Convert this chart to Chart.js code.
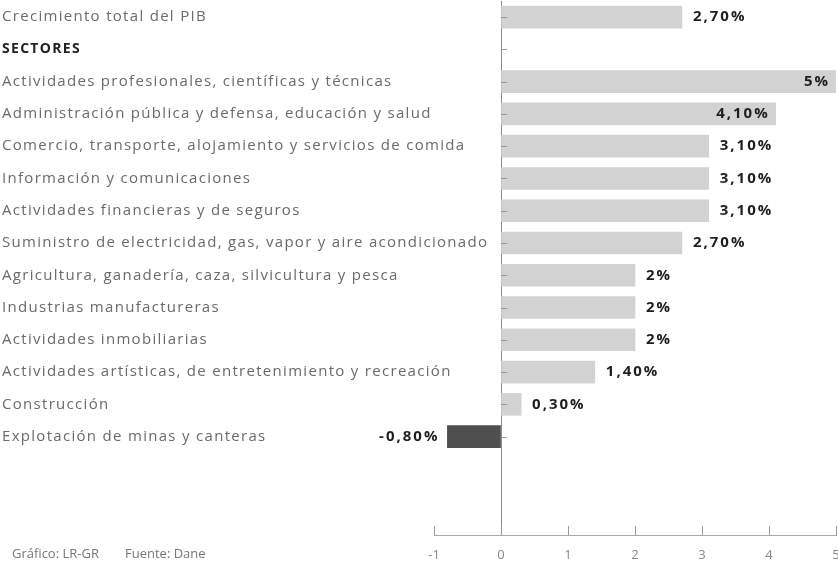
<!DOCTYPE html>
<html>
<head>
<meta charset="utf-8">
<script src="https://cdn.jsdelivr.net/npm/chart.js@4.4.0/dist/chart.umd.min.js"></script>
<style>
  html, body { margin: 0; padding: 0; background: #fff; }
  #wrap { width: 838px; height: 563px; }
</style>
</head>
<body>
<div id="wrap"><canvas id="pibChart"></canvas></div>
<script>
// Categories (top to bottom) and growth values in %
const categories = [
    'Crecimiento total del PIB',
    'SECTORES',
    'Actividades profesionales, científicas y técnicas',
    'Administración pública y defensa, educación y salud',
    'Comercio, transporte, alojamiento y servicios de comida',
    'Información y comunicaciones',
    'Actividades financieras y de seguros',
    'Suministro de electricidad, gas, vapor y aire acondicionado',
    'Agricultura, ganadería, caza, silvicultura y pesca',
    'Industrias manufactureras',
    'Actividades inmobiliarias',
    'Actividades artísticas, de entretenimiento y recreación',
    'Construcción',
    'Explotación de minas y canteras'
];
const growth = [2.7, null, 5, 4.1, 3.1, 3.1, 3.1, 2.7, 2, 2, 2, 1.4, 0.3, -0.8];
const xTicks = [-1, 0, 1, 2, 3, 4, 5];
const footerParts = ['Gráfico: LR-GR', 'Fuente: Dane'];

// y range: half a row above the first, empty space below the last
const yMin = -0.5;
const yMax = 16.05;

// Spanish style percent: 2,70% / 5%
function fmt(v) {
    if (Number.isInteger(v)) return v + '%';
    return v.toFixed(2).replace('.', ',') + '%';
}

// Category names, drawn left aligned and allowed to run past the axis box
const rowLabels = {
    id: 'rowLabels',
    afterDraw(chart) {
        const ctx = chart.ctx;
        const ys = chart.scales.y;
        ctx.save();
        ctx.letterSpacing = '1.3px';
        ctx.textAlign = 'left';
        ctx.textBaseline = 'middle';
        categories.forEach((c, i) => {
            if (i === 1) {
                ctx.font = 'bold 14px "Open Sans"';
                ctx.fillStyle = '#222';
            } else {
                ctx.font = '15px "Open Sans"';
                ctx.fillStyle = '#6a6a6a';
            }
            ctx.fillText(c, 2, ys.getPixelForValue(i));
        });
        ctx.restore();
    }
};

// Value labels at the end of each bar
const valueLabels = {
    id: 'valueLabels',
    afterDatasetsDraw(chart) {
        const ctx = chart.ctx;
        const meta = chart.getDatasetMeta(0);
        const area = chart.chartArea;
        ctx.save();
        ctx.letterSpacing = '2px';
        ctx.font = 'bold 15px "Open Sans"';
        ctx.fillStyle = '#1e1e1e';
        ctx.textBaseline = 'middle';
        meta.data.forEach((bar, i) => {
            const v = growth[i];
            if (v === null) return;
            const txt = fmt(v);
            const w = ctx.measureText(txt).width;
            if (v < 0) {
                ctx.textAlign = 'right';
                ctx.fillText(txt, bar.x - 8, bar.y);
            } else if (bar.x + 12 + w > area.right) {
                ctx.textAlign = 'right';
                ctx.fillText(txt, bar.x - 6, bar.y);
            } else {
                ctx.textAlign = 'left';
                ctx.fillText(txt, bar.x + 11, bar.y);
            }
        });
        ctx.restore();
    }
};

// Small inward tick marks on the x axis and on the zero line, plus footer
const decorations = {
    id: 'decorations',
    afterDraw(chart) {
        const ctx = chart.ctx;
        const xs = chart.scales.x;
        const ys = chart.scales.y;
        const bottom = chart.chartArea.bottom;
        const zero = xs.getPixelForValue(0);
        ctx.save();
        ctx.strokeStyle = '#999';
        ctx.lineWidth = 1;
        xTicks.forEach(t => {
            const px = Math.round(xs.getPixelForValue(t)) + 0.5;
            ctx.beginPath();
            ctx.moveTo(px, bottom);
            ctx.lineTo(px, bottom - 9);
            ctx.stroke();
        });
        categories.forEach((c, i) => {
            const py = Math.round(ys.getPixelForValue(i)) + 0.5;
            ctx.beginPath();
            ctx.moveTo(zero, py);
            ctx.lineTo(zero + 6, py);
            ctx.stroke();
        });
        ctx.font = '13px "Open Sans"';
        ctx.fillStyle = '#777';
        ctx.textAlign = 'left';
        ctx.textBaseline = 'middle';
        ctx.fillText(footerParts[0], 12, 554);
        ctx.fillText(footerParts[1], 125, 554);
        ctx.restore();
    }
};

function createChart() {
    const ctx = document.getElementById('pibChart').getContext('2d');

    new Chart(ctx, {
        type: 'bar',
        data: {
            datasets: [{
                data: growth.map((v, i) => ({ x: v, y: i })),
                backgroundColor: growth.map(v => v < 0 ? '#4f4f4f' : '#d2d2d2'),
                barThickness: 22
            }]
        },
        options: {
            indexAxis: 'y',
            responsive: true,
            maintainAspectRatio: false,
            animation: false,
            layout: { padding: { left: 2, right: 2, top: 1, bottom: 0 } },
            plugins: {
                legend: { display: false },
                tooltip: { enabled: false }
            },
            scales: {
                x: {
                    type: 'linear',
                    min: xTicks[0],
                    max: xTicks[xTicks.length - 1],
                    afterBuildTicks: s => { s.ticks = xTicks.map(v => ({ value: v })); },
                    afterFit: s => { s.height = 28; s.paddingLeft = 0; s.paddingRight = 0; },
                    grid: {
                        color: c => c.tick && c.tick.value === 0 ? '#8a8a8a' : 'rgba(0,0,0,0)',
                        drawTicks: false
                    },
                    border: { display: true, color: '#aaa' },
                    ticks: {
                        padding: 12,
                        color: '#888',
                        font: { family: 'Open Sans', size: 13 }
                    }
                },
                y: {
                    type: 'linear',
                    reverse: true,
                    offset: false,
                    min: yMin,
                    max: yMax,
                    afterDataLimits: s => { s.min = yMin; s.max = yMax; },
                    afterFit: s => { s.width = 432; s.paddingTop = 0; s.paddingBottom = 0; },
                    grid: { display: false, drawTicks: false },
                    border: { display: false },
                    ticks: { display: false }
                }
            }
        },
        plugins: [rowLabels, valueLabels, decorations]
    });
}

window.onload = function () {
    createChart();
};
</script>
</body>
</html>
